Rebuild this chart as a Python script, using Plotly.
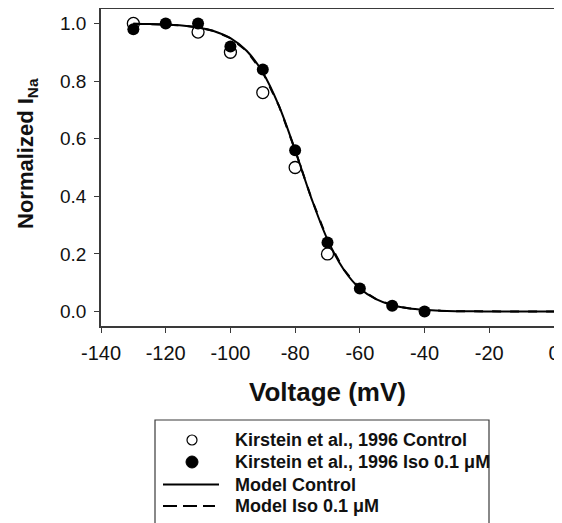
import plotly.graph_objects as go

# ── Data ──
VOLT_DATA = [-130, -120, -110, -100, -90, -80, -70, -60, -50, -40]
CONTROL_DATA = [1.00, None, 0.97, 0.90, 0.76, 0.50, 0.20, None, None, None]
ISO_DATA = [0.98, 1.00, 1.00, 0.92, 0.84, 0.56, 0.24, 0.08, 0.02, 0.00]

VOLT_MODEL = [-130, -125, -120, -115, -110, -105, -100, -95, -90, -85, -80,
              -75, -70, -65, -60, -55, -50, -45, -40, -35, -30, -25, -20,
              -15, -10, -5, 0]
MODEL_CONTROL = [0.999, 0.998, 0.996, 0.993, 0.986, 0.973, 0.949, 0.905, 0.830,
                 0.714, 0.560, 0.394, 0.250, 0.146, 0.080, 0.043, 0.022, 0.0115,
                 0.006, 0.003, 0.0015, 0.0008, 0.0004, 0.0002, 0.0001, 0.0, 0.0]
MODEL_ISO = MODEL_CONTROL[:]

X_TICKS = [-140, -120, -100, -80, -60, -40, -20, 0]
Y_TICKS = [0.0, 0.2, 0.4, 0.6, 0.8, 1.0]

LEGEND_NAMES = ["Kirstein et al., 1996 Control", "Kirstein et al., 1996 Iso 0.1 μM",
                "Model Control", "Model Iso 0.1 μM"]

FONT = "Liberation Sans, Arial, sans-serif"
INK = "#111111"
FRAME = "#3a3a3a"

# ── Page geometry: screen pixels; the page body adds an 8px offset ──
OFFSET = 8
W, H = 562 - OFFSET, 523 - OFFSET
SL, SR, ST, SB = 101, 554, 9, 326


def px_x(px):
    return (px - SL) / (SR - SL)


def px_y(py):
    return (SB - py) / (SB - ST)


fig = go.Figure()

fig.add_trace(go.Scatter(
    x=VOLT_MODEL, y=MODEL_ISO, mode="lines", name=LEGEND_NAMES[3],
    line=dict(color="black", width=2, dash="dash"),
))
fig.add_trace(go.Scatter(
    x=VOLT_MODEL, y=MODEL_CONTROL, mode="lines", name=LEGEND_NAMES[2],
    line=dict(color="black", width=2, shape="spline"),
))
fig.add_trace(go.Scatter(
    x=VOLT_DATA, y=CONTROL_DATA, mode="markers", name=LEGEND_NAMES[0],
    marker=dict(symbol="circle-open", size=12, color="black", line=dict(width=1.3)),
))
fig.add_trace(go.Scatter(
    x=VOLT_DATA, y=ISO_DATA, mode="markers", name=LEGEND_NAMES[1],
    marker=dict(symbol="circle", size=12, color="black"),
))

axis_common = dict(
    showline=True, mirror=True, linecolor=FRAME, linewidth=1.5,
    showgrid=False, zeroline=False, automargin=False,
    ticks="outside", ticklen=5, tickcolor=FRAME, tickwidth=1,
)

fig.update_xaxes(
    range=[-140, 0], tickvals=X_TICKS, ticktext=[str(v) for v in X_TICKS],
    tickfont=dict(family=FONT, size=20, color=INK),
    title=dict(text="Voltage (mV)", font=dict(family=FONT, size=26, color=INK, weight="bold"),
               standoff=20),
    ticklabelstandoff=3,
    **axis_common,
)
fig.update_yaxes(
    range=[-0.05, 1.05], tickvals=Y_TICKS, tickformat=".1f",
    tickfont=dict(family=FONT, size=19, color=INK),
    ticklabelstandoff=4,
    **axis_common,
)

# ── Legend box drawn by hand (row spacing is tighter than Plotly's legend) ──
rows = [440, 462, 484.5, 506]
sym_x = 192
shapes = [dict(type="rect", xref="paper", yref="paper",
               x0=px_x(155), x1=px_x(489), y0=px_y(420), y1=px_y(526),
               line=dict(color=FRAME, width=1.2), fillcolor="rgba(0,0,0,0)")]
shapes.append(dict(type="circle", xref="paper", yref="paper",
                   xsizemode="pixel", ysizemode="pixel",
                   xanchor=px_x(sym_x), yanchor=px_y(rows[0]),
                   x0=-5, x1=5, y0=-5, y1=5,
                   line=dict(color="black", width=1.2), fillcolor="white"))
shapes.append(dict(type="circle", xref="paper", yref="paper",
                   xsizemode="pixel", ysizemode="pixel",
                   xanchor=px_x(sym_x), yanchor=px_y(rows[1]),
                   x0=-6, x1=6, y0=-6, y1=6,
                   line=dict(color="black", width=1), fillcolor="black"))
shapes.append(dict(type="line", xref="paper", yref="paper",
                   x0=px_x(163), x1=px_x(219), y0=px_y(rows[2]), y1=px_y(rows[2]),
                   line=dict(color="black", width=2)))
shapes.append(dict(type="line", xref="paper", yref="paper",
                   x0=px_x(163), x1=px_x(215), y0=px_y(rows[3]), y1=px_y(rows[3]),
                   line=dict(color="black", width=2, dash="14px,6px")))

annotations = []
for name, row in zip(LEGEND_NAMES, rows):
    annotations.append(dict(
        text=name, xref="paper", yref="paper", x=px_x(233), y=px_y(row),
        xanchor="left", yanchor="middle", showarrow=False,
        font=dict(family=FONT, size=18, color=INK, weight="bold"),
    ))

# y title as annotation so it can sit where the reference puts it
annotations.append(dict(
    text="Normalized I<sub>Na</sub>", xref="paper", yref="paper",
    x=px_x(27), y=px_y(154), xanchor="center", yanchor="middle",
    textangle=-90, showarrow=False,
    font=dict(family=FONT, size=22, color=INK, weight="bold"),
))

fig.update_layout(
    width=W, height=H,
    margin=dict(l=SL - OFFSET, r=W - (SR - OFFSET), t=ST - OFFSET, b=H - (SB - OFFSET)),
    plot_bgcolor="white", paper_bgcolor="white",
    showlegend=False,
    shapes=shapes, annotations=annotations,
)

fig.write_html("out.html")
